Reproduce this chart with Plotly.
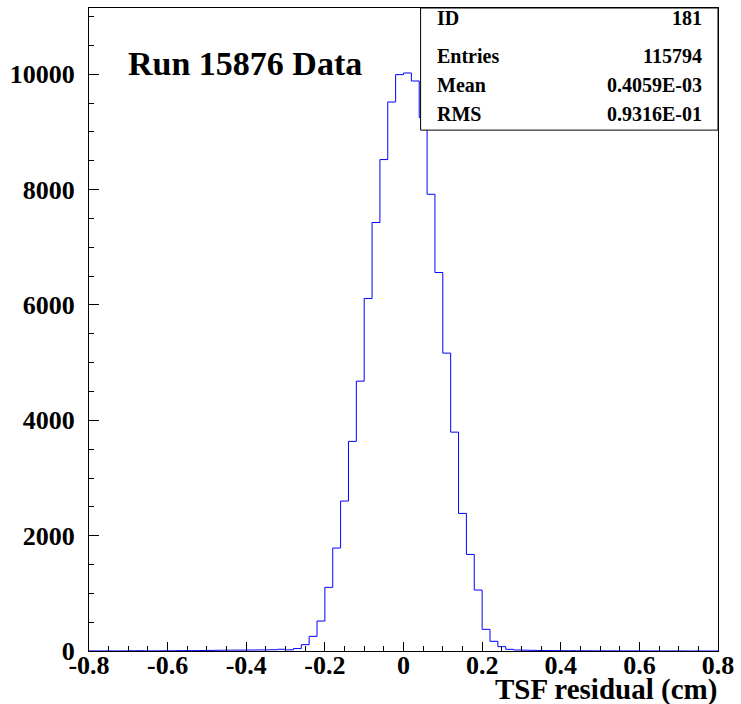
import plotly.graph_objects as go

# Histogram 181: TSF residual, 80 bins of 0.02 cm from -0.8 to 0.8
bin_lo = -0.8
bin_width = 0.02
counts = [
    2, 1, 2, 1, 2, 4, 5, 3, 3, 4,
    4, 6, 7, 6, 8, 10, 13, 14, 15, 16,
    17, 18, 20, 22, 30, 20, 42, 110, 254, 520,
    1104, 1785, 2600, 3635, 4679, 6113, 7430, 8522, 9520, 9995,
    10023, 9884, 9250, 7920, 6563, 5165, 3795, 2386, 1675, 1057,
    376, 168, 75, 29, 17, 14, 11, 9, 7, 6,
    5, 5, 4, 4, 3, 3, 3, 2, 2, 2,
    2, 1, 1, 1, 1, 1, 0, 1, 0, 0,
]
x_ticks = [-0.8, -0.6, -0.4, -0.2, 0, 0.2, 0.4, 0.6, 0.8]
x_tick_labels = ["-0.8", "-0.6", "-0.4", "-0.2", "0", "0.2", "0.4", "0.6", "0.8"]
y_ticks = [0, 2000, 4000, 6000, 8000, 10000]
y_tick_labels = ["0", "2000", "4000", "6000", "8000", "10000"]
stat_names = ["ID", "Entries", "Mean", "RMS"]
stat_values = ["181", "115794", "0.4059E-03", "0.9316E-01"]
title_text = "Run 15876 Data"
x_title = "TSF residual (cm)"

edges = [round(bin_lo + bin_width * i, 4) for i in range(len(counts) + 1)]
step_y = counts + [counts[-1]]

W, H = 741, 704
L, R, T, B = 89, 19, 7, 53
pw, ph = W - L - R, H - T - B


def px(x):
    return (x - L) / pw


def py(y):
    return (H - B - y) / ph


FONT = "Liberation Serif"

fig = go.Figure()
fig.add_trace(go.Scatter(
    x=edges, y=step_y, mode="lines", line_shape="hv",
    line=dict(color="#0000ff", width=1), hoverinfo="skip", showlegend=False,
))

axis_common = dict(
    showline=True, linecolor="black", linewidth=1, mirror=True,
    ticks="inside", tickcolor="black", tickwidth=1,
    showgrid=False, zeroline=False,
    tickfont=dict(family=FONT, size=26, color="black", weight="bold"),
)

fig.update_xaxes(
    range=[-0.8, 0.8], tickvals=x_ticks, ticktext=x_tick_labels, ticklen=9,
    minor=dict(dtick=0.05, tick0=0, ticks="inside", ticklen=5, tickcolor="black"),
    ticklabelstandoff=-9,
    **axis_common,
)
fig.update_yaxes(
    range=[0, 11150], tickvals=y_ticks, ticktext=y_tick_labels, ticklen=10,
    minor=dict(dtick=500, tick0=0, ticks="inside", ticklen=5, tickcolor="black"),
    ticklabelstandoff=8,
    **axis_common,
)

# statistics box
fig.add_shape(type="rect", xref="paper", yref="paper",
              x0=px(422.7), x1=1.0, y0=py(129.3), y1=1.0,
              line=dict(color="black", width=1), fillcolor="white", layer="above")

annotations = []
row_y = [17, 55, 84, 113]
for name, val, yy in zip(stat_names, stat_values, row_y):
    annotations.append(dict(x=px(437), y=py(yy), xref="paper", yref="paper",
                            text=name, showarrow=False, xanchor="left", yanchor="middle",
                            font=dict(family=FONT, size=20, color="black", weight="bold")))
    annotations.append(dict(x=px(708), y=py(yy), xref="paper", yref="paper",
                            text=val, showarrow=False, xanchor="right", yanchor="middle",
                            font=dict(family=FONT, size=20, color="black", weight="bold")))

annotations.append(dict(x=px(126), y=py(63), xref="paper", yref="paper",
                        text=title_text, showarrow=False, xanchor="left", yanchor="middle",
                        font=dict(family=FONT, size=34, color="black", weight="bold")))
annotations.append(dict(x=px(723), y=py(690), xref="paper", yref="paper",
                        text=x_title, showarrow=False, xanchor="right", yanchor="middle",
                        font=dict(family=FONT, size=29, color="black", weight="bold")))

fig.update_layout(
    width=W, height=H,
    margin=dict(l=L, r=R, t=T, b=B, pad=0),
    paper_bgcolor="white", plot_bgcolor="white",
    annotations=annotations,
)

fig.write_html("out.html")
